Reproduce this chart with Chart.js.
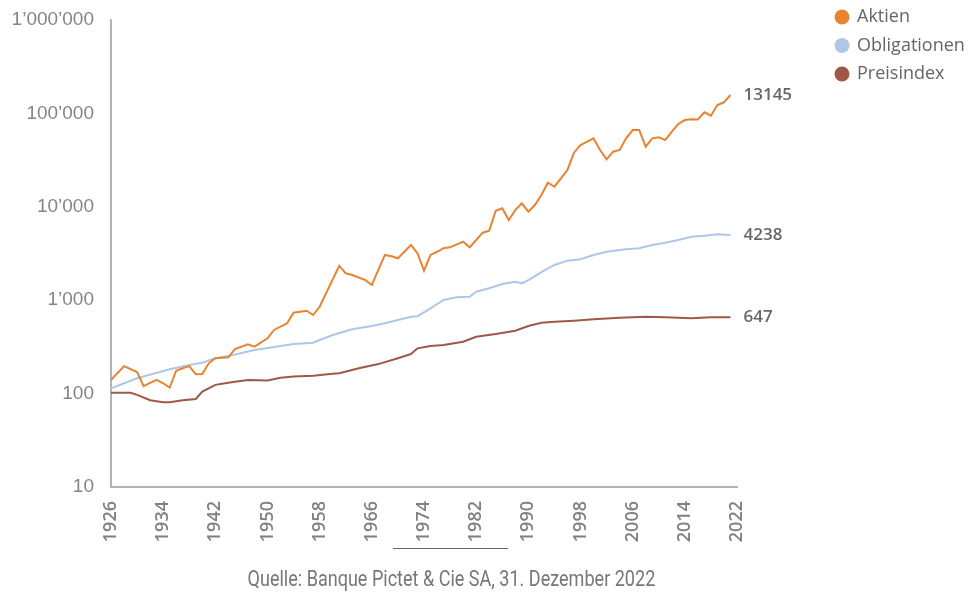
<!DOCTYPE html>
<html lang="de">
<head>
<meta charset="UTF-8">
<title>Aktien, Obligationen, Preisindex 1926–2022</title>
<script src="https://cdn.jsdelivr.net/npm/chart.js@4.4.0/dist/chart.umd.min.js"></script>
<style>
    html, body {
        margin: 0;
        padding: 0;
        background: #fff;
    }
    #wrap {
        position: relative;
        width: 978px;
        height: 601px;
    }
    #source {
        position: absolute;
        left: 0;
        width: 903px;
        top: 566px;
        text-align: center;
        font-family: Roboto, sans-serif;
        font-size: 22px;
        color: #777;
        transform: scaleX(0.82);
        transform-origin: 451px 0;
    }
    #rule {
        position: absolute;
        left: 393px;
        top: 548px;
        width: 115px;
        border-top: 1px solid #666;
    }
</style>
</head>
<body>
<div id="wrap">
    <canvas id="chart"></canvas>
    <div id="rule"></div>
    <div id="source">Quelle: Banque Pictet &amp; Cie SA, 31. Dezember 2022</div>
</div>

<script>
    const seriesNames = ['Aktien', 'Obligationen', 'Preisindex'];
    const seriesColors = ['#E8832F', '#ADC7E8', '#A05846'];
    const endLabels = ['13145', '4238', '647'];

    const yTicks = [10, 100, 1000, 10000, 100000, 1000000];
    const yTickLabels = ['10', '100', '1’000', '10’000', '100’000', '1’000’000'];

    const aktienYears = [1926, 1928, 1930, 1931, 1932, 1933, 1934, 1935, 1936, 1937, 1938, 1939, 1940, 1941, 1942, 1944, 1945, 1947, 1948, 1950,
        1951, 1953, 1954, 1956, 1957, 1958, 1961, 1962, 1963, 1965, 1966, 1968, 1969, 1970, 1972, 1973, 1974, 1975, 1976, 1977,
        1978, 1980, 1981, 1982, 1983, 1984, 1985, 1986, 1987, 1988, 1989, 1990, 1991, 1992, 1993, 1994, 1995, 1996, 1997, 1998,
        2000, 2001, 2002, 2003, 2004, 2005, 2006, 2007, 2008, 2009, 2010, 2011, 2012, 2013, 2014, 2015, 2016, 2017, 2018, 2019,
        2020, 2021];
    const aktienValues = [140, 197, 170, 120, 130, 140, 129, 116, 176, 187, 197, 161, 162, 211, 239, 245, 300, 337, 318, 391,
        480, 566, 735, 772, 694, 850, 2340, 1940, 1860, 1640, 1455, 3050, 2950, 2810, 3900, 3180, 2070, 3050, 3300, 3600,
        3680, 4230, 3680, 4410, 5280, 5550, 9080, 9640, 7230, 9240, 10900, 8860, 10450, 13370, 18100, 16400, 20200, 24800, 37950, 45900,
        54100, 40550, 32260, 38900, 40550, 54100, 66400, 66400, 44000, 54100, 55400, 51900, 63700, 77000, 84900, 86800, 86300, 102700, 94500, 123000,
        131500, 157400];

    const obligYears = [1926, 1930, 1935, 1938, 1940, 1942, 1944, 1948, 1952, 1954, 1957, 1958, 1960, 1963, 1966, 1968, 1970, 1972, 1973, 1975,
        1977, 1979, 1981, 1982, 1984, 1986, 1988, 1989, 1990, 1992, 1994, 1996, 1998, 2000, 2002, 2005, 2007, 2009, 2011, 2013,
        2015, 2017, 2019, 2021];
    const obligValues = [114, 146, 182, 202, 214, 239, 253, 293, 323, 340, 350, 375, 424, 488, 529, 566, 614, 666, 674, 819,
        1005, 1074, 1090, 1233, 1341, 1491, 1578, 1516, 1644, 2000, 2383, 2650, 2740, 3048, 3304, 3508, 3595, 3900, 4127, 4411,
        4786, 4900, 5076, 5000];

    const preisYears = [1926, 1929, 1930, 1932, 1934, 1935, 1937, 1939, 1940, 1942, 1944, 1945, 1947, 1950, 1952, 1954, 1957, 1960, 1961, 1964,
        1967, 1970, 1972, 1973, 1975, 1977, 1980, 1982, 1985, 1988, 1990, 1992, 1994, 1997, 2000, 2004, 2008, 2011, 2015, 2018,
        2021];
    const preisValues = [102, 102, 97, 85, 81, 81, 85, 87.5, 105, 124, 131, 134, 140, 138, 148, 152, 155, 163, 165, 187,
        207, 239, 265, 305, 324, 331, 359, 406, 435, 471, 529, 574, 589, 604, 624, 649, 666, 655, 640, 655,
        655];

    function toPoints(years, values) {
        return years.map((yr, i) => ({ x: yr, y: values[i] }));
    }

    // legend + value labels at the line ends
    const labelPlugin = {
        id: 'labelPlugin',
        afterDatasetsDraw(chart) {
            const ctx = chart.ctx;
            ctx.save();
            ctx.textBaseline = 'middle';
            ctx.font = '600 17px "Open Sans", sans-serif';
            ctx.fillStyle = '#666';
            chart.data.datasets.forEach((ds, i) => {
                const meta = chart.getDatasetMeta(i);
                const last = meta.data[meta.data.length - 1];
                ctx.fillText(endLabels[i], last.x + 13, last.y);
            });

            ctx.font = '18px "Open Sans", sans-serif';
            seriesNames.forEach((name, i) => {
                const y = 17 + i * 28.5;
                ctx.beginPath();
                ctx.arc(842, y, 7.5, 0, Math.PI * 2);
                ctx.fillStyle = seriesColors[i];
                ctx.fill();
                ctx.fillStyle = '#666';
                ctx.fillText(name, 857, y);
            });
            ctx.restore();
        }
    };

    const ctx = document.getElementById('chart').getContext('2d');
    const chart = new Chart(ctx, {
        type: 'line',
        data: {
            datasets: [
                { label: seriesNames[0], data: toPoints(aktienYears, aktienValues) },
                { label: seriesNames[1], data: toPoints(obligYears, obligValues) },
                { label: seriesNames[2], data: toPoints(preisYears, preisValues) }
            ].map((ds, i) => Object.assign(ds, {
                borderColor: seriesColors[i],
                backgroundColor: seriesColors[i],
                borderWidth: 2,
                pointRadius: 0,
                tension: 0
            }))
        },
        options: {
            responsive: true,
            maintainAspectRatio: false,
            animation: false,
            layout: {
                padding: { top: 20, right: 241, bottom: 0, left: 0 }
            },
            plugins: {
                legend: { display: false },
                tooltip: { enabled: false }
            },
            scales: {
                x: {
                    type: 'linear',
                    min: 1926,
                    max: 2022,
                    grid: { display: false, drawTicks: false },
                    border: { display: true, color: '#b3b3b3', width: 2 },
                    afterFit: s => { s.height = 114; },
                    ticks: {
                        stepSize: 8,
                        autoSkip: false,
                        minRotation: 90,
                        maxRotation: 90,
                        padding: 14,
                        color: '#808080',
                        font: { family: '"Open Sans"', size: 18, weight: '600' },
                        callback: v => String(v)
                    }
                },
                y: {
                    type: 'logarithmic',
                    min: 10,
                    max: 1000000,
                    grid: { display: false, drawTicks: false },
                    border: { display: true, color: '#b3b3b3', width: 2 },
                    afterFit: s => { s.width = 111; s.paddingTop = 0; s.paddingBottom = 0; },
                    afterBuildTicks: s => { s.ticks = yTicks.map(v => ({ value: v })); },
                    ticks: {
                        padding: 17,
                        color: '#858585',
                        font: { family: '"Liberation Sans", Arial, sans-serif', size: 19 },
                        callback: v => yTickLabels[yTicks.indexOf(v)]
                    }
                }
            }
        },
        plugins: [labelPlugin]
    });
</script>
</body>
</html>
